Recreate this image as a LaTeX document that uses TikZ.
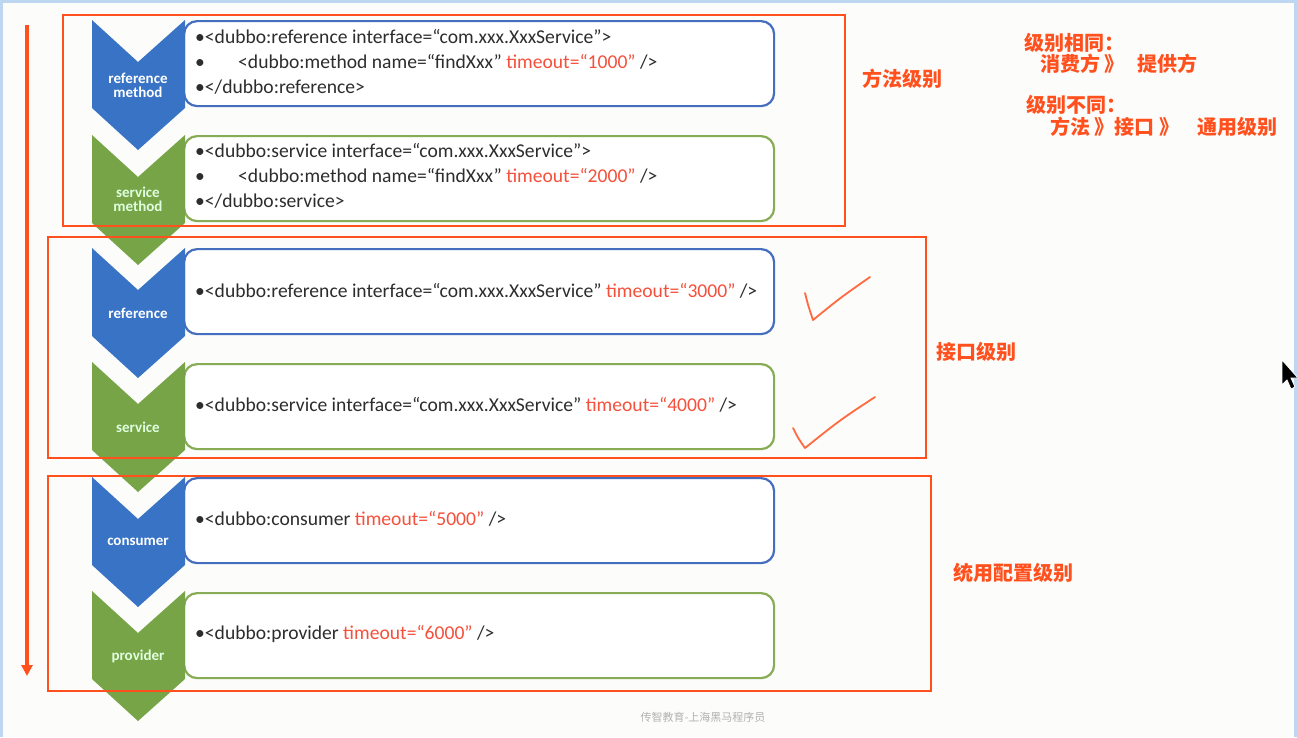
\documentclass[tikz,border=0pt]{standalone}
\usepackage{fontspec}
\setmainfont{Carlito}
\newfontfamily\cjk{Noto Sans CJK SC}
\usetikzlibrary{arrows.meta}
\definecolor{org}{RGB}{255,80,30}
\definecolor{cblue}{RGB}{56,115,198}
\definecolor{cgreen}{RGB}{118,164,70}
\definecolor{bblue}{RGB}{70,110,190}
\definecolor{bgreen}{RGB}{135,172,85}
\definecolor{tred}{RGB}{245,80,60}
\definecolor{tgray}{RGB}{45,45,45}
\definecolor{bgc}{RGB}{252,252,250}
\definecolor{frame}{RGB}{190,215,240}
\newcommand\mychev[2]{%
  \fill[#2]
    (92,#1) -- (138,#1+42) -- (185,#1) -- (185,#1+88) -- (138,#1+130) -- (92,#1+88) -- cycle;}
\begin{document}
\begin{tikzpicture}[x=1pt,y=-1pt,
  codebox/.style={draw=#1, line width=2.2pt, fill=white, rounded corners=13pt,
    minimum width=590pt, minimum height=85pt, anchor=north west, inner sep=0pt},
  code/.style={anchor=base west, inner sep=0pt, text=tgray, font=\fontsize{19.6}{22}\selectfont},
  chlab/.style={align=center, text=white, font=\bfseries\fontsize{15}{17}\selectfont, inner sep=0pt},
  chlabg/.style={chlab, text=white!88!green},
  orbox/.style={draw=org, line width=2pt},
  cnlab/.style={text=org, font=\cjk\bfseries\fontsize{20}{22}\selectfont, inner sep=0pt},
  check/.style={draw=org!85, line width=1.8pt, line cap=round, line join=round}]
\useasboundingbox (0,0) rectangle (1297,737);
\fill[bgc] (0,0) rectangle (1297,737);
\fill[frame] (0,0) rectangle (1297,3);
\fill[frame] (0,0) rectangle (3,737);
\fill[frame] (1294,0) rectangle (1297,737);

% boxes
\node[codebox=bblue] (b1) at (183,20) {};
\node[codebox=bgreen] (b2) at (183,135) {};
\node[codebox=bblue] (b3) at (183,248) {};
\node[codebox=bgreen] (b4) at (183,363) {};
\node[codebox=bblue] (b5) at (183,477) {};
\node[codebox=bgreen] (b6) at (183,592) {};

% chevrons
\mychev{20}{cblue}
\mychev{135}{cgreen}
\mychev{248}{cblue}
\mychev{362}{cgreen}
\mychev{477}{cblue}
\mychev{591}{cgreen}

\node[chlab] (c1) at (138,85) {reference\\[-3pt]method};
\node[chlabg] (c2) at (138,199) {service\\[-3pt]method};
\node[chlab] (c3) at (138,313) {reference};
\node[chlabg] (c4) at (138,427) {service};
\node[chlab] (c5) at (138,542) {consumer};
\node[chlabg] (c6) at (138,656) {provider};

% code text
\node[code] (t11) at (195,43) {•<dubbo:reference interface=“com.xxx.XxxService”>};
\node[code] (t12a) at (195,68) {•};
\node[code] (t12) at (238,68) {<dubbo:method name=“findXxx” \textcolor{tred}{timeout=“1000”} />};
\node[code] (t13) at (195,93) {•</dubbo:reference>};
\node[code] (t21) at (195,157) {•<dubbo:service interface=“com.xxx.XxxService”>};
\node[code] (t22a) at (195,182) {•};
\node[code] (t22) at (238,182) {<dubbo:method name=“findXxx” \textcolor{tred}{timeout=“2000”} />};
\node[code] (t23) at (195,207) {•</dubbo:service>};
\node[code] (t3) at (195,297) {•<dubbo:reference interface=“com.xxx.XxxService” \textcolor{tred}{timeout=“3000”} />};
\node[code] (t4) at (195,411) {•<dubbo:service interface=“com.xxx.XxxService” \textcolor{tred}{timeout=“4000”} />};
\node[code] (t5) at (195,525) {•<dubbo:consumer \textcolor{tred}{timeout=“5000”} />};
\node[code] (t6) at (195,639) {•<dubbo:provider \textcolor{tred}{timeout=“6000”} />};

% orange frames
\draw[orbox] (63,15) rectangle (845,226);
\draw[orbox] (48,237) rectangle (926,458);
\draw[orbox] (48,476) rectangle (931,691);

\node[cnlab] (l1) at (902,79) {方法级别};
\node[cnlab] (l2) at (976,352) {接口级别};
\node[cnlab] (l3) at (1013,573) {统用配置级别};

\node[cnlab, anchor=west] (r1) at (1024,43) {级别相同：};
\node[cnlab, anchor=west] (r2) at (1040,64) {消费方 》\hspace{13pt}提供方};
\node[cnlab, anchor=west] (r3) at (1026,105) {级别不同：};
\node[cnlab, anchor=west] (r4) at (1050,127) {方法 》接口 》\hspace{18pt}通用级别};

% left arrow
\coordinate (atop) at (27,25);
\coordinate (abot) at (27,676);
\draw[org, line width=3.2pt, -{Triangle[length=11pt,width=11pt]}] (atop) -- (abot);

% checks
\draw[check] (805,293) .. controls (808,305) .. (813,320) .. controls (840,298) .. (870,277);
\draw[check] (793,428) .. controls (798,438) .. (805,448) .. controls (840,420) .. (875,397);

% cursor
\filldraw[fill=black, draw=white, line width=0.8pt] (1282,360) -- (1282,385) -- (1287,380) -- (1291,389) -- (1295,387) -- (1291,378) -- (1298,378) -- cycle;

% watermark
\node[text=black!30, font=\cjk\fontsize{11}{12}\selectfont] (wm) at (703,717) {传智教育-上海黑马程序员};
\end{tikzpicture}
\end{document}
